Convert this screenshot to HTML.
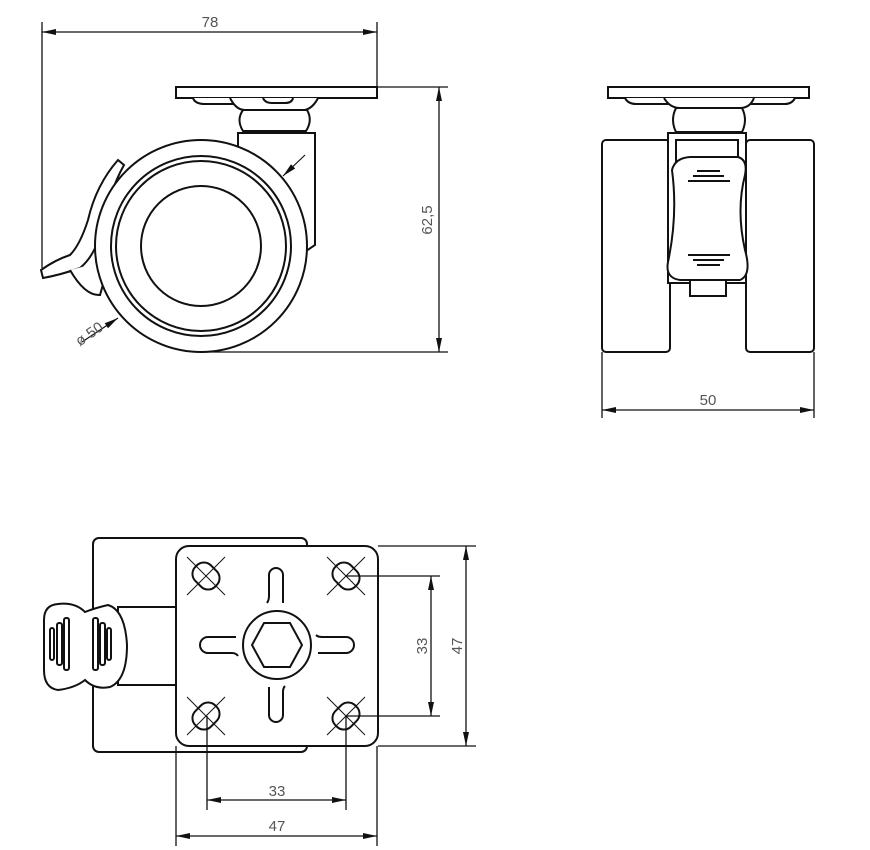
<!DOCTYPE html>
<html><head><meta charset="utf-8"><style>
html,body{margin:0;padding:0;background:#fff;}
svg{display:block;}
text{font-family:"Liberation Sans",sans-serif;font-size:15px;fill:#555;}
</style></head><body>
<svg width="870" height="850" viewBox="0 0 870 850" xmlns="http://www.w3.org/2000/svg">
<defs>
<marker id="a" viewBox="0 0 14 6" refX="14" refY="3" markerWidth="14" markerHeight="6" orient="auto-start-reverse" markerUnits="userSpaceOnUse"><path d="M0,0 L14,3 L0,6z" fill="#111"/></marker>
</defs>
<g fill="none" stroke="#111" stroke-width="1.3">
<line x1="42" y1="22" x2="42" y2="268"/>
<line x1="377" y1="22" x2="377" y2="87"/>
<line x1="42" y1="32" x2="377" y2="32" marker-start="url(#a)" marker-end="url(#a)"/>
<line x1="377" y1="87" x2="448" y2="87"/>
<line x1="200" y1="352" x2="448" y2="352"/>
<line x1="439" y1="87" x2="439" y2="352" marker-start="url(#a)" marker-end="url(#a)"/>
</g>
<text x="210" y="27" text-anchor="middle">78</text>
<text transform="translate(432,220) rotate(-90)" text-anchor="middle">62,5</text>

<g fill="#fff" stroke="#111" stroke-width="2">
<rect x="176" y="87" width="201" height="11"/>
<path d="M193,98 Q195,104 205,104 L300,104 Q312,104 315,98"/>
<path d="M230,98 Q236,110 245,110 L305,110 Q313,108 318,98"/>
<path d="M263,98 Q265,103 272,103 L285,103 Q292,103 293,98"/>
<path d="M243,110 Q236,120 243,131 L306,131 Q313,120 307,110 Z"/>
<path d="M238,133 L315,133 L315,245 L290,262 L238,200 Z"/>
<path d="M43,278 L41,270 Q55,260 70,255 Q80,245 88,220 Q96,185 118,160 L124,165 Q110,190 103,225 Q96,255 80,268 Q60,275 43,278 Z"/>
<path d="M70,270 Q85,296 100,295 L110,260"/>
<circle cx="201" cy="246" r="106"/>
<circle cx="201" cy="246" r="90"/>
<circle cx="201" cy="246" r="85"/>
<circle cx="201" cy="246" r="60"/>
</g>
<g stroke="#111" stroke-width="1.2" fill="none">
<line x1="82" y1="342" x2="118" y2="318" marker-end="url(#a)"/>
<line x1="305" y1="155" x2="283" y2="176" marker-end="url(#a)"/>
</g>
<text transform="translate(92,338) rotate(-35)" text-anchor="middle">ø 50</text>

<g fill="#fff" stroke="#111" stroke-width="2">
<rect x="608" y="87" width="201" height="11"/>
<path d="M625,98 Q628,104 636,104 L785,104 Q792,104 795,98"/>
<path d="M664,98 Q670,108 680,108 L740,108 Q750,108 754,98"/>
<path d="M676,108 Q670,120 676,132 L742,132 Q748,120 742,108 Z"/>
<rect x="602" y="140" width="68" height="212" rx="4"/>
<rect x="746" y="140" width="68" height="212" rx="4"/>
<rect x="668" y="133" width="78" height="150"/>
<rect x="676" y="140" width="62" height="30"/>
<rect x="690" y="278" width="36" height="18"/>
<path d="M672,170 Q675,158 690,157 L738,157 Q748,160 745,175 Q736,210 745,250 Q752,275 740,280 L680,280 Q665,278 668,262 Q678,215 672,170 Z"/>
</g>
<g stroke="#111" stroke-width="2" fill="none">
<line x1="697" y1="171" x2="720" y2="171"/><line x1="693" y1="176" x2="724" y2="176"/><line x1="688" y1="181" x2="730" y2="181"/>
<line x1="688" y1="255" x2="730" y2="255"/><line x1="693" y1="260" x2="724" y2="260"/><line x1="697" y1="265" x2="720" y2="265"/>
</g>
<g stroke="#111" stroke-width="1.3" fill="none">
<line x1="602" y1="352" x2="602" y2="418"/>
<line x1="814" y1="352" x2="814" y2="418"/>
<line x1="602" y1="410" x2="814" y2="410" marker-start="url(#a)" marker-end="url(#a)"/>
</g>
<text x="708" y="405" text-anchor="middle">50</text>

<g fill="#fff" stroke="#111" stroke-width="2">
<rect x="93" y="538" width="214" height="214" rx="6"/>
<rect x="118" y="607" width="60" height="78"/>
<path d="M58,604 Q75,602 85,612 Q95,608 108,605 Q125,610 127,645 Q127,680 110,687 Q95,690 85,680 Q75,688 58,690 Q44,688 44,670 L44,620 Q44,605 58,604 Z"/>
<rect x="176" y="546" width="202" height="200" rx="13"/>
</g>
<g stroke="#111" stroke-width="2" fill="none">
<rect x="50" y="628" width="4" height="32" rx="2"/><rect x="57" y="623" width="5" height="42" rx="2"/><rect x="64" y="618" width="5" height="52" rx="2"/>
<rect x="93" y="618" width="5" height="52" rx="2"/><rect x="100" y="623" width="5" height="42" rx="2"/><rect x="107" y="628" width="4" height="32" rx="2"/>
<circle cx="277" cy="645" r="34"/>
<path d="M264,623 L290,623 L302,645 L290,667 L264,667 L252,645 Z"/>
<path d="M267,603 Q269,600 269,596 L269,575 A7,7 0 0 1 283,575 L283,603"/>
<path d="M269,687 L269,715 A7,7 0 0 0 283,715 L283,692 Q283,688 285,686"/>
<path d="M236,637 L208,637 A8,8 0 0 0 208,653 L232,653 Q236,653 238,656"/>
<path d="M316,635 Q318,637 322,637 L346,637 A8,8 0 0 1 346,653 L318,653"/>
<g transform="translate(206,576) rotate(45)"><rect x="-14" y="-11" width="28" height="22" rx="10"/></g>
<g transform="translate(346,576) rotate(45)"><rect x="-14" y="-11" width="28" height="22" rx="10"/></g>
<g transform="translate(206,716) rotate(-45)"><rect x="-14" y="-11" width="28" height="22" rx="10"/></g>
<g transform="translate(346,716) rotate(-45)"><rect x="-14" y="-11" width="28" height="22" rx="10"/></g>
</g>
<g stroke="#111" stroke-width="1" fill="none">
<path d="M187,557 L225,595 M225,557 L187,595"/>
<path d="M327,557 L365,595 M365,557 L327,595"/>
<path d="M187,697 L225,735 M225,697 L187,735"/>
<path d="M327,697 L365,735 M365,697 L327,735"/>
</g>
<g stroke="#111" stroke-width="1.3" fill="none">
<line x1="346" y1="576" x2="440" y2="576"/>
<line x1="346" y1="716" x2="440" y2="716"/>
<line x1="378" y1="546" x2="476" y2="546"/>
<line x1="378" y1="746" x2="476" y2="746"/>
<line x1="431" y1="576" x2="431" y2="716" marker-start="url(#a)" marker-end="url(#a)"/>
<line x1="466" y1="546" x2="466" y2="746" marker-start="url(#a)" marker-end="url(#a)"/>
<line x1="207" y1="716" x2="207" y2="810"/>
<line x1="346" y1="716" x2="346" y2="810"/>
<line x1="176" y1="746" x2="176" y2="846"/>
<line x1="377" y1="746" x2="377" y2="846"/>
<line x1="207" y1="800" x2="346" y2="800" marker-start="url(#a)" marker-end="url(#a)"/>
<line x1="176" y1="836" x2="377" y2="836" marker-start="url(#a)" marker-end="url(#a)"/>
</g>
<text transform="translate(427,646) rotate(-90)" text-anchor="middle">33</text>
<text transform="translate(462,646) rotate(-90)" text-anchor="middle">47</text>
<text x="277" y="796" text-anchor="middle">33</text>
<text x="277" y="831" text-anchor="middle">47</text>
</svg>
</body></html>
